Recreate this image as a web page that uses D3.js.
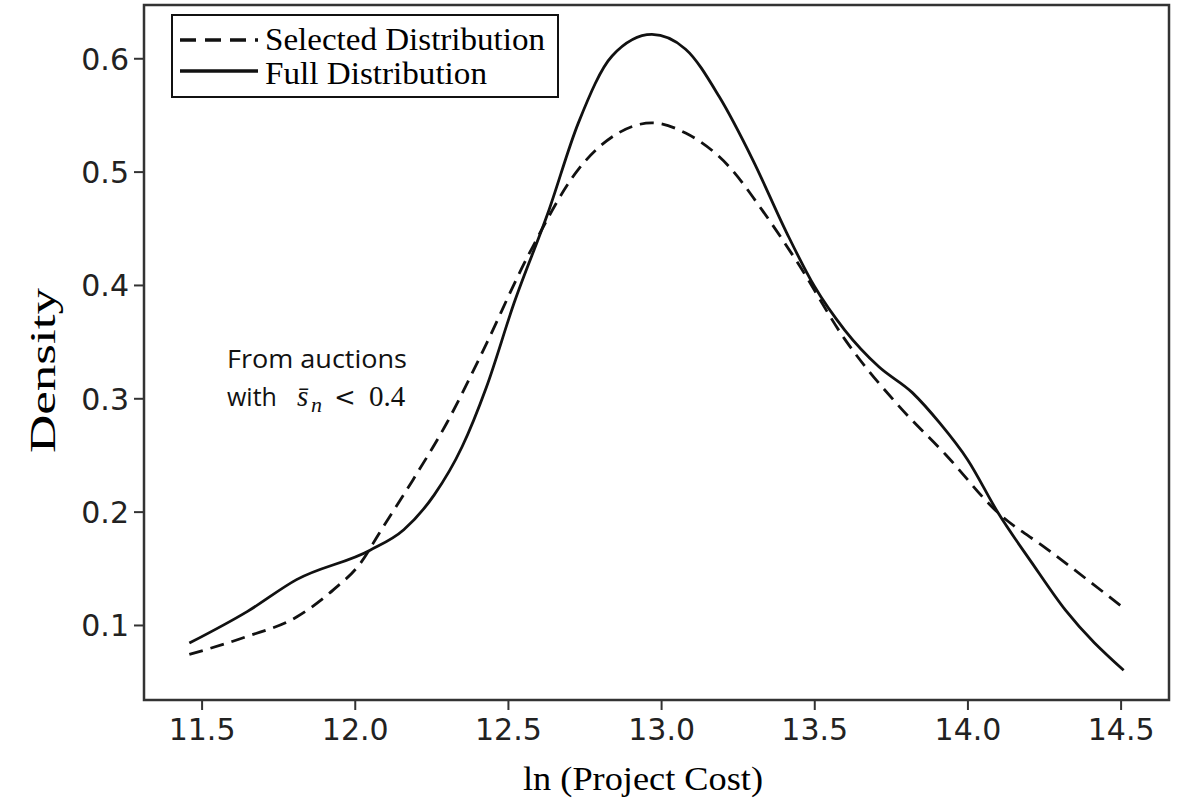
<!DOCTYPE html>
<html>
<head>
<meta charset="utf-8">
<script src="https://cdn.jsdelivr.net/npm/d3@7"></script>
<style>
  body { margin: 0; background: #fff; }
  svg { display: block; }
</style>
</head>
<body>
<svg id="chart"></svg>
<script>
var w = 1179;
var h = 798;

// full distribution (solid)
let fullX = [11.46, 11.65, 11.81, 12.05, 12.16, 12.26, 12.35, 12.43, 12.52, 12.63, 12.73, 12.84, 12.97, 13.08, 13.19, 13.30, 13.41, 13.50, 13.60, 13.71, 13.82, 13.91, 14.00, 14.10, 14.21, 14.32, 14.51];
let fullY = [0.084, 0.112, 0.140, 0.166, 0.184, 0.215, 0.257, 0.310, 0.384, 0.463, 0.543, 0.602, 0.621, 0.608, 0.566, 0.510, 0.446, 0.399, 0.360, 0.328, 0.305, 0.278, 0.246, 0.199, 0.155, 0.113, 0.060];
// selected distribution (dashed)
let selX = [11.46, 11.65, 11.81, 11.93, 12.02, 12.08, 12.19, 12.30, 12.41, 12.57, 12.73, 12.86, 12.97, 13.08, 13.22, 13.33, 13.44, 13.60, 13.77, 13.93, 14.10, 14.26, 14.51];
let selY = [0.074, 0.090, 0.107, 0.131, 0.155, 0.181, 0.228, 0.278, 0.337, 0.428, 0.502, 0.534, 0.543, 0.534, 0.505, 0.466, 0.422, 0.352, 0.295, 0.250, 0.199, 0.167, 0.115];
let xTicks = [11.5, 12.0, 12.5, 13.0, 13.5, 14.0, 14.5];
let yTicks = [0.1, 0.2, 0.3, 0.4, 0.5, 0.6];

var m = { left: 144, top: 5, right: 1169, bottom: 700 };

var svg = d3.select("#chart")
    .attr("width", w)
    .attr("height", h);

var x = d3.scaleLinear()
    .domain([11.312, 14.658])
    .range([m.left, m.right]);
var y = d3.scaleLinear()
    .domain([0.0338, 0.647])
    .range([m.bottom, m.top]);

var line = d3.line()
    .x(d => x(d[0]))
    .y(d => y(d[1]))
    .curve(d3.curveMonotoneX);

//axes
var xAxis = svg.append("g")
    .attr("transform", "translate(0," + m.bottom + ")")
    .call(d3.axisBottom(x).tickValues(xTicks).tickFormat(d3.format(".1f")).tickSize(10).tickPadding(9));
var yAxis = svg.append("g")
    .attr("transform", "translate(" + m.left + ",0)")
    .call(d3.axisLeft(y).tickValues(yTicks).tickFormat(d3.format(".1f")).tickSize(10).tickPadding(5));
[xAxis, yAxis].forEach(a => {
    a.select(".domain").remove();
    a.selectAll("line").attr("stroke", "#333").attr("stroke-width", 2);
    a.selectAll("text")
        .attr("fill", "#222")
        .style("font-family", "DejaVu Sans")
        .style("font-size", "30px");
});
yAxis.selectAll("text").attr("dy", "0.36em");

//frame
svg.append("rect")
    .attr("x", m.left)
    .attr("y", m.top)
    .attr("width", m.right - m.left)
    .attr("height", m.bottom - m.top)
    .attr("fill", "none")
    .attr("stroke", "#333")
    .attr("stroke-width", 2.5);

//curves
svg.append("path")
    .datum(d3.zip(selX, selY))
    .attr("d", line)
    .attr("fill", "none")
    .attr("stroke", "#111")
    .attr("stroke-width", 2.8)
    .attr("stroke-dasharray", "14,8");
svg.append("path")
    .datum(d3.zip(fullX, fullY))
    .attr("d", line)
    .attr("fill", "none")
    .attr("stroke", "#111")
    .attr("stroke-width", 2.8);

//legend
var lg = svg.append("g");
lg.append("rect")
    .attr("x", 172).attr("y", 15)
    .attr("width", 386).attr("height", 82)
    .attr("fill", "#fff")
    .attr("stroke", "#111")
    .attr("stroke-width", 2);
lg.append("line")
    .attr("x1", 180).attr("x2", 258).attr("y1", 40).attr("y2", 40)
    .attr("stroke", "#111").attr("stroke-width", 3.5)
    .attr("stroke-dasharray", "16,9");
lg.append("line")
    .attr("x1", 180).attr("x2", 258).attr("y1", 71).attr("y2", 71)
    .attr("stroke", "#111").attr("stroke-width", 3.5);
lg.append("text")
    .attr("x", 265).attr("y", 50)
    .attr("textLength", 280).attr("lengthAdjust", "spacingAndGlyphs")
    .style("font-family", "Liberation Serif").style("font-size", "31px")
    .text("Selected Distribution");
lg.append("text")
    .attr("x", 265).attr("y", 84)
    .attr("textLength", 222).attr("lengthAdjust", "spacingAndGlyphs")
    .style("font-family", "Liberation Serif").style("font-size", "31px")
    .text("Full Distribution");

//axis titles
svg.append("text")
    .attr("x", 523).attr("y", 790)
    .attr("textLength", 240).attr("lengthAdjust", "spacingAndGlyphs")
    .style("font-family", "Liberation Serif").style("font-size", "34px")
    .text("ln (Project Cost)");
svg.append("text")
    .attr("transform", "translate(55,453) rotate(-90)")
    .attr("textLength", 165).attr("lengthAdjust", "spacingAndGlyphs")
    .style("font-family", "Liberation Serif").style("font-size", "35px")
    .text("Density");

//annotation
svg.append("text")
    .attr("x", 227).attr("y", 368)
    .attr("textLength", 180).attr("lengthAdjust", "spacingAndGlyphs")
    .style("font-family", "Open Sans")
    .style("font-size", "25px")
    .attr("fill", "#111")
    .text("From auctions");
var t2 = svg.append("text").attr("y", 406).attr("fill", "#111");
t2.append("tspan").attr("x", 227).style("font-family", "Open Sans").style("font-size", "25px").text("with");
t2.append("tspan").attr("x", 297).style("font-family", "Liberation Serif").style("font-style", "italic").style("font-size", "29px").text("s\u0304");
t2.append("tspan").attr("x", 311).attr("dy", 6).style("font-family", "Liberation Serif").style("font-style", "italic").style("font-size", "22px").text("n");
t2.append("tspan").attr("x", 334).attr("dy", -6).style("font-family", "DejaVu Serif").style("font-size", "26px").text("<");
t2.append("tspan").attr("x", 369).style("font-family", "Liberation Serif").style("font-size", "29px").text("0.4");
</script>
</body>
</html>
